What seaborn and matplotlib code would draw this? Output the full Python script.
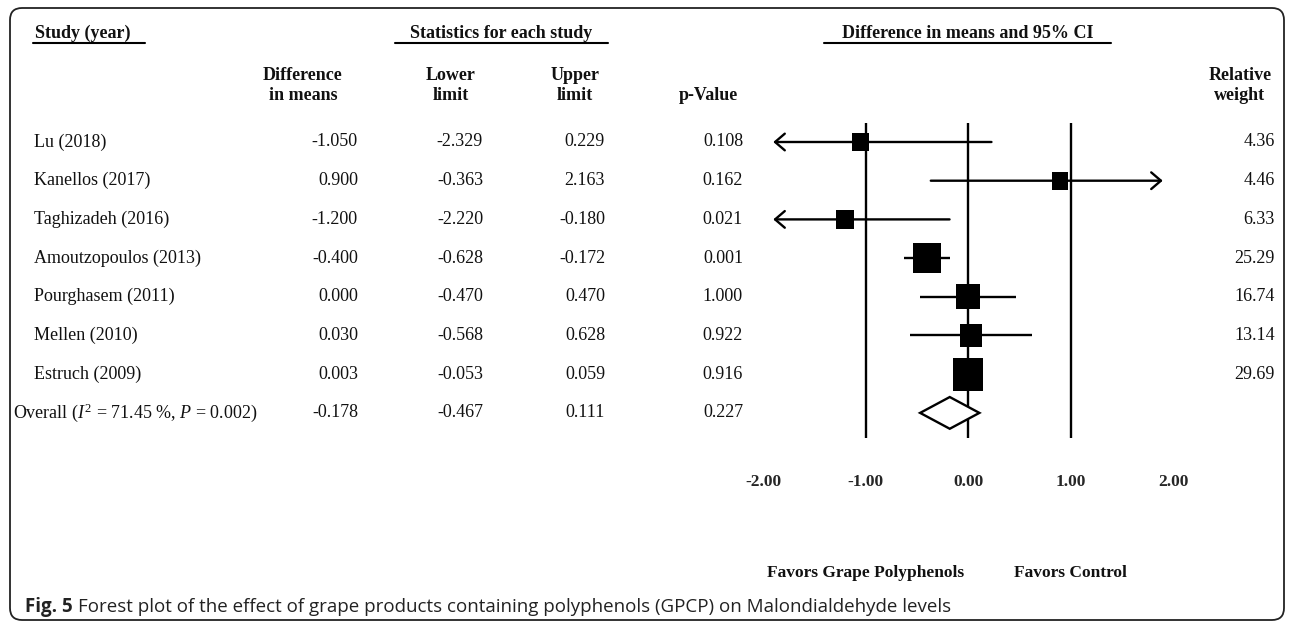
import numpy as np
import pandas as pd
import matplotlib
matplotlib.use("Agg")
import matplotlib.pyplot as plt
import seaborn as sns
from matplotlib.patches import FancyBboxPatch, Polygon
from matplotlib.path import Path
from matplotlib.transforms import blended_transform_factory, IdentityTransform
from matplotlib.lines import Line2D

# ---------------- data ----------------
studies = ["Lu (2018)", "Kanellos (2017)", "Taghizadeh (2016)", "Amoutzopoulos (2013)",
           "Pourghasem (2011)", "Mellen (2010)", "Estruch (2009)"]
diff = [-1.050, 0.900, -1.200, -0.400, 0.000, 0.030, 0.003]
lower = [-2.329, -0.363, -2.220, -0.628, -0.470, -0.568, -0.053]
upper = [0.229, 2.163, -0.180, -0.172, 0.470, 0.628, 0.059]
pvals = [0.108, 0.162, 0.021, 0.001, 1.000, 0.922, 0.916]
weights = [4.36, 4.46, 6.33, 25.29, 16.74, 13.14, 29.69]
overall_label = "Overall ($\\mathit{I}^{2}$ = 71.45 %, $\\mathit{P}$ = 0.002)"
overall_diff = -0.178
overall_lower = -0.467
overall_upper = 0.111
overall_p = 0.227
x_ticks = [-2, -1, 0, 1, 2]
ref_lines = [-1, 0, 1]
favors_left = "Favors Grape Polyphenols"
favors_right = "Favors Control"
caption_bold = "Fig. 5"
caption_text = ("Forest plot of the effect of grape products containing polyphenols (GPCP) "
                "on Malondialdehyde levels")

# ---------------- style ----------------
sns.set_theme(style="white")
plt.rcParams["font.family"] = ["Liberation Serif", "DejaVu Serif"]
plt.rcParams["mathtext.fontset"] = "custom"
plt.rcParams["mathtext.rm"] = "Liberation Serif"
plt.rcParams["mathtext.it"] = "Liberation Serif:italic"
plt.rcParams["mathtext.bf"] = "Liberation Serif:bold"

W, H = 1292, 624
fig = plt.figure(figsize=(W / 100, H / 100), dpi=100)
fig.patch.set_facecolor("white")

def fx(px):
    return px / W

def fy(py):
    return 1 - py / H

# forest axes: x -2..2 mapped to px 763..1173 ; rows at 142 + 38.7*i
X0_PX, X1_PX = 763, 1173
ROW0_PX, ROW_STEP = 142, 38.7
AX_TOP, AX_BOT = 123, 438
ax = fig.add_axes([fx(X0_PX), fy(AX_BOT), (X1_PX - X0_PX) / W, (AX_BOT - AX_TOP) / H])
ax.set_facecolor("none")

n = len(studies)
rows = list(range(n))
overall_row = n
ARROW_LIM = 1.9
LW = 1.7

for v in ref_lines:
    ax.axvline(v, color="black", lw=LW, zorder=1)

# CIs
for i in rows:
    lo, hi = lower[i], upper[i]
    lo_c, hi_c = max(lo, -ARROW_LIM), min(hi, ARROW_LIM)
    if lo < -ARROW_LIM or hi > ARROW_LIM:
        if lo < -ARROW_LIM:
            tip, start = lo_c, hi_c
        else:
            tip, start = hi_c, lo_c
        ax.annotate("", xy=(tip, i), xytext=(start, i), xycoords="data",
                    arrowprops=dict(arrowstyle="->,head_length=0.7,head_width=0.6",
                                    lw=LW, color="black", shrinkA=0, shrinkB=0,
                                    mutation_scale=10), zorder=2)
    else:
        ax.hlines(i, lo_c, hi_c, color="black", lw=LW, zorder=2)

# squares sized by weight
df = pd.DataFrame({"diff": diff, "row": rows, "weight": weights})
sizes = {w: ((15.3 + 0.59 * w) * 0.72) ** 2 for w in weights}
sq = Path([(-0.46, -0.5), (0.46, -0.5), (0.46, 0.5), (-0.46, 0.5), (-0.46, -0.5)],
          [Path.MOVETO, Path.LINETO, Path.LINETO, Path.LINETO, Path.CLOSEPOLY])
sns.scatterplot(data=df, x="diff", y="row", size="weight", sizes=sizes, marker=sq,
                color="black", edgecolor="none", linewidth=0, legend=False, ax=ax, zorder=4)

# overall diamond
dh = 0.41
diamond = Polygon([(overall_lower, overall_row), (overall_diff, overall_row - dh),
                   (overall_upper, overall_row), (overall_diff, overall_row + dh)],
                  closed=True, facecolor="white", edgecolor="black", lw=LW, zorder=4)
ax.add_patch(diamond)

ax.set_xlim(-2, 2)
ax.set_ylim((AX_BOT - ROW0_PX) / ROW_STEP, (AX_TOP - ROW0_PX) / ROW_STEP)
ax.set_xlabel("")
ax.set_ylabel("")
ax.set_yticks([])
ax.set_xticks(x_ticks)
ax.set_xticklabels([f"{t:.2f}" for t in x_ticks], fontweight="bold", fontsize=12.5)
ax.tick_params(axis="x", length=0, pad=26)
for s in ax.spines.values():
    s.set_visible(False)

# ---------------- table text ----------------
tr = blended_transform_factory(fig.transFigure, ax.transData)
FS = 13
TXT = "#111111"
STUDY_X, OVERALL_X = 34, 13
DIFF_R, LOW_R, UP_R, P_R, W_R = 358, 483, 605, 743, 1275

for i in rows:
    ax.text(fx(STUDY_X), i, studies[i], transform=tr, ha="left", va="center", fontsize=FS, color=TXT)
    ax.text(fx(DIFF_R), i, f"{diff[i]:.3f}", transform=tr, ha="right", va="center", fontsize=FS, color=TXT)
    ax.text(fx(LOW_R), i, f"{lower[i]:.3f}", transform=tr, ha="right", va="center", fontsize=FS, color=TXT)
    ax.text(fx(UP_R), i, f"{upper[i]:.3f}", transform=tr, ha="right", va="center", fontsize=FS, color=TXT)
    ax.text(fx(P_R), i, f"{pvals[i]:.3f}", transform=tr, ha="right", va="center", fontsize=FS, color=TXT)
    ax.text(fx(W_R), i, f"{weights[i]:.2f}", transform=tr, ha="right", va="center", fontsize=FS, color=TXT)

o = overall_row
ax.text(fx(OVERALL_X), o, overall_label, transform=tr, ha="left", va="center", fontsize=FS, color=TXT)
ax.text(fx(DIFF_R), o, f"{overall_diff:.3f}", transform=tr, ha="right", va="center", fontsize=FS, color=TXT)
ax.text(fx(LOW_R), o, f"{overall_lower:.3f}", transform=tr, ha="right", va="center", fontsize=FS, color=TXT)
ax.text(fx(UP_R), o, f"{overall_upper:.3f}", transform=tr, ha="right", va="center", fontsize=FS, color=TXT)
ax.text(fx(P_R), o, f"{overall_p:.3f}", transform=tr, ha="right", va="center", fontsize=FS, color=TXT)

# ---------------- headers ----------------
HB = dict(fontsize=FS, fontweight="bold", color=TXT)
fig.text(fx(35), fy(33), "Study (year)", ha="left", va="center", **HB)
fig.text(fx(501), fy(33), "Statistics for each study", ha="center", va="center", **HB)
fig.text(fx(968), fy(33), "Difference in means and 95% CI", ha="center", va="center", **HB)
for (a, b) in [(33, 145), (395, 608), (824, 1111)]:
    fig.add_artist(Line2D([fx(a), fx(b)], [fy(43), fy(43)], color="black", lw=1.5,
                          transform=fig.transFigure))

L1, L2 = 76, 96
for cx, t1, t2 in [(303, "Difference", "in means"), (451, "Lower", "limit"),
                   (575, "Upper", "limit"), (1240, "Relative", "weight")]:
    fig.text(fx(cx), fy(L1), t1, ha="center", va="center", **HB)
    fig.text(fx(cx), fy(L2), t2, ha="center", va="center", **HB)
fig.text(fx(708), fy(L2), "p-Value", ha="center", va="center", **HB)

# favors labels centred on -1 / +1
trf = blended_transform_factory(ax.transData, fig.transFigure)
ax.text(-1, fy(573), favors_left, transform=trf, ha="center", va="center",
        fontsize=12.5, fontweight="bold", color=TXT)
ax.text(1, fy(573), favors_right, transform=trf, ha="center", va="center",
        fontsize=12.5, fontweight="bold", color=TXT)

# ---------------- caption ----------------
renderer = fig.canvas.get_renderer()
cap_family = ["Open Sans", "DejaVu Sans"]
CAP_FS = 13.5
t1 = fig.text(fx(25), fy(607), caption_bold, ha="left", va="center", fontsize=CAP_FS,
              fontweight="bold", family=cap_family, color="#222222")
bb = t1.get_window_extent(renderer)
fig.text((bb.x1 + 5) / W, fy(607), caption_text, ha="left", va="center", fontsize=CAP_FS,
         family=cap_family, color="#222222")

# ---------------- rounded border ----------------
border = FancyBboxPatch((10, H - 620), 1284 - 10, 620 - 8,
                        boxstyle="round,pad=0,rounding_size=12",
                        transform=IdentityTransform(), facecolor="none",
                        edgecolor="#222222", lw=1.3)
fig.add_artist(border)

fig.savefig("out.png", dpi=100)
